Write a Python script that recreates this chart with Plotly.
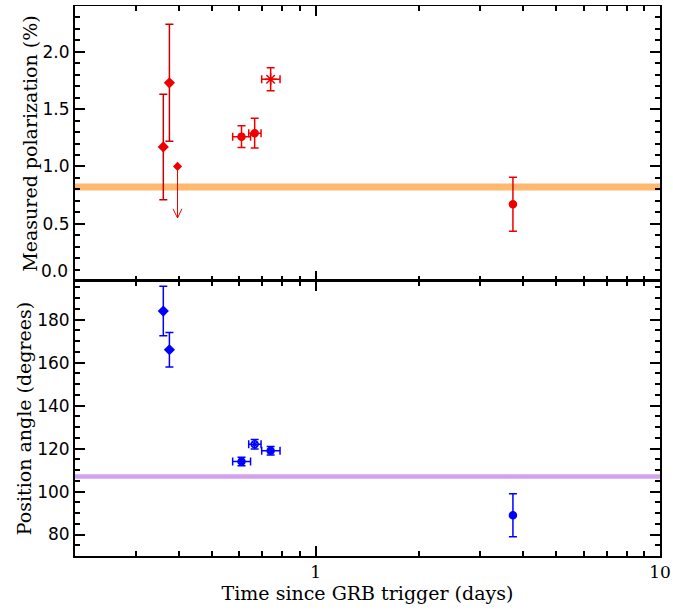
import numpy as np
import plotly.graph_objects as go
from plotly.subplots import make_subplots

# ---- data ----
t_pts = [0.361, 0.376, 0.609, 0.665, 0.740, 3.74]
t_err_lo = [0.0, 0.0, 0.035, 0.026, 0.043, 0.0]
t_err_hi = [0.0, 0.0, 0.038, 0.029, 0.048, 0.0]
symbols_pol = ["diamond", "diamond", "circle", "circle-x", "asterisk-open", "circle"]
symbols_pa = ["diamond", "diamond", "circle", "circle-x-open", "circle-cross", "circle"]

pol = [1.17, 1.73, 1.26, 1.29, 1.76, 0.67]
pol_err = [0.46, 0.51, 0.095, 0.13, 0.10, 0.235]

pol_limit_t = [0.397]
pol_limit_val = [1.0]
pol_limit_arrow_end = [0.55]

pa = [184, 166, 114, 122, 119, 89]
pa_err = [11.5, 8, 2, 2.2, 2, 10]

pol_band = [0.79, 0.85]
pa_band = [106, 108]

pol_ticks = [0, 0.5, 1.0, 1.5, 2.0]
pol_ticktext = ["0.0", "0.5", "1.0", "1.5", "2.0"]
pa_ticks = [80, 100, 120, 140, 160, 180]

RED = "#ee0000"
DKRED = "#c80000"
BLUE = "#0000ff"

fig = make_subplots(rows=2, cols=1, shared_xaxes=True, vertical_spacing=0)

# bands
fig.add_shape(type="rect", xref="x domain", yref="y", x0=0, x1=1,
              y0=pol_band[0], y1=pol_band[1], fillcolor="#ffb870", line_width=0, layer="below")
fig.add_shape(type="rect", xref="x2 domain", yref="y2", x0=0, x1=1,
              y0=pa_band[0], y1=pa_band[1], fillcolor="#d4a0f0", line_width=0, layer="below")

for i in range(len(t_pts)):
    ecol = DKRED if i < 2 else RED
    sz = 10 if symbols_pol[i] == "asterisk-open" else 7
    fig.add_trace(go.Scatter(
        x=[t_pts[i]], y=[pol[i]], mode="markers",
        marker=dict(symbol=symbols_pol[i], size=sz, color=RED,
                    line=dict(color=RED, width=1.5)),
        error_y=dict(type="data", array=[pol_err[i]], color=ecol, thickness=1.5, width=4),
        error_x=dict(type="data", array=[t_err_hi[i]], arrayminus=[t_err_lo[i]],
                     color=RED, thickness=1.5, width=4, visible=t_err_hi[i] > 0),
        showlegend=False), row=1, col=1)
    fig.add_trace(go.Scatter(
        x=[t_pts[i]], y=[pa[i]], mode="markers",
        marker=dict(symbol=symbols_pa[i], size=7, color=BLUE,
                    line=dict(color=BLUE, width=1.5)),
        error_y=dict(type="data", array=[pa_err[i]], color=BLUE, thickness=1.5, width=4),
        error_x=dict(type="data", array=[t_err_hi[i]], arrayminus=[t_err_lo[i]],
                     color=BLUE, thickness=1.5, width=4, visible=t_err_hi[i] > 0),
        showlegend=False), row=2, col=1)

# upper limit: marker, stem and open V head
for tl, v0, v1 in zip(pol_limit_t, pol_limit_val, pol_limit_arrow_end):
    fig.add_trace(go.Scatter(x=[tl], y=[v0], mode="markers",
                             marker=dict(symbol="diamond", size=7, color=RED),
                             showlegend=False), row=1, col=1)
    fig.add_trace(go.Scatter(x=[tl, tl], y=[v0, v1], mode="lines",
                             line=dict(color=RED, width=1), showlegend=False), row=1, col=1)
    fig.add_trace(go.Scatter(x=[tl * 0.97, tl, tl * 1.03], y=[v1 + 0.08, v1, v1 + 0.08],
                             mode="lines", line=dict(color=RED, width=1),
                             showlegend=False), row=1, col=1)

minor_x = [0.2, 0.3, 0.4, 0.5, 0.6, 0.7, 0.8, 0.9, 2, 3, 4, 5, 6, 7, 8, 9]
axis_common = dict(showline=True, linecolor="black", linewidth=2, mirror="allticks",
                   ticks="inside", tickcolor="black", tickwidth=2, showgrid=False,
                   zeroline=False, automargin=False)
xfont = dict(family="DejaVu Serif, serif", size=17, color="black")
yfont = dict(family="DejaVu Sans, Arial, sans-serif", size=17, color="black")
tfont = dict(family="DejaVu Serif, serif", size=19, color="black")

for r in (1, 2):
    fig.update_xaxes(type="log", range=[np.log10(0.2), 1], tickvals=[1, 10],
                     ticktext=["1", "10"], ticklen=10,
                     minor=dict(tickmode="array", tickvals=minor_x, ticks="inside",
                                ticklen=5, tickwidth=1.5, tickcolor="black"),
                     tickfont=xfont, **axis_common, row=r, col=1)
fig.update_xaxes(title=dict(text="Time since GRB trigger (days)", font=tfont, standoff=6),
                 row=2, col=1)
fig.update_xaxes(linewidth=1, row=1, col=1)
fig.update_xaxes(linewidth=1.5, row=2, col=1)

# lowest label sits just above the panel boundary (as in the reference)
fig.update_yaxes(range=[0, 2.4], tickvals=pol_ticks,
                 ticktext=[""] + pol_ticktext[1:], ticklen=10,
                 minor=dict(dtick=0.1, ticks="inside", ticklen=5, tickwidth=1.5, tickcolor="black"),
                 tickfont=yfont,
                 title=dict(text="Measured polarization (%)", font=tfont, standoff=0),
                 **axis_common, row=1, col=1)
fig.add_annotation(x=0, xref="paper", y=pol_ticks[0], yref="y", text=pol_ticktext[0],
                   showarrow=False, xanchor="right", yanchor="bottom", xshift=-5, yshift=-2,
                   font=yfont)
fig.update_yaxes(range=[70, 198], tickvals=pa_ticks, ticklen=10,
                 minor=dict(dtick=5, ticks="inside", ticklen=5, tickwidth=1.5, tickcolor="black"),
                 tickfont=yfont,
                 title=dict(text="Position angle (degrees)", font=tfont, standoff=0),
                 **axis_common, row=2, col=1)

fig.update_layout(width=673, height=612, margin=dict(l=75, r=13, t=6, b=56),
                  plot_bgcolor="white", paper_bgcolor="white")

fig.write_html("out.html", config={"displayModeBar": False},
               post_script="document.body.style.margin='0';")
